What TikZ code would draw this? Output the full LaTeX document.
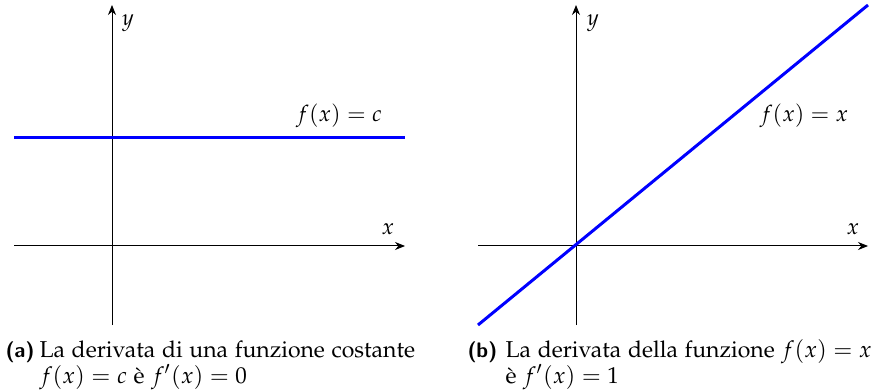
\documentclass[tikz,border=0pt]{standalone}
\usepackage[T1]{fontenc}
\usepackage[sc]{mathpazo}
\usetikzlibrary{arrows.meta}
\definecolor{fblue}{RGB}{0,0,255}
\newcommand{\labfont}{\fontencoding{TU}\fontfamily{lmss}\bfseries\selectfont}
\begin{document}
\begin{tikzpicture}[x=0.4pt,y=-0.4pt,
  axis/.style={line width=0.4pt,-{Stealth[length=4pt,width=3.2pt]}},
  graph/.style={fblue,line width=1.2pt},
  lbl/.style={inner sep=0pt,font=\fontsize{9}{11}\selectfont},
  captext/.style={inner sep=0pt,anchor=base west,font=\fontsize{9.2}{11}\selectfont},
  caplab/.style={inner sep=0pt,anchor=base west,font=\fontsize{8.4}{10}\labfont}]
\useasboundingbox (0,0) rectangle (879,392);
% left panel
\coordinate (ax1w) at (14,246);
\coordinate (ax1e) at (405,246);
\coordinate (ay1s) at (112,325);
\coordinate (ay1n) at (112,5);
\coordinate (c1w) at (14,138);
\coordinate (c1e) at (405,138);
\draw[axis] (ax1w) -- (ax1e);
\draw[axis] (ay1s) -- (ay1n);
\draw[graph] (c1w) -- (c1e);
\node[lbl] (ylab1) at (128,23) {$y$};
\node[lbl] (xlab1) at (388,229) {$x$};
\node[lbl] (flab1) at (339,116) {$f(x)=c$};
% right panel
\coordinate (ax2w) at (478,246);
\coordinate (ax2e) at (868,246);
\coordinate (ay2s) at (576,325);
\coordinate (ay2n) at (576,5);
\coordinate (l2s) at (478,325);
\coordinate (l2e) at (868,5);
\draw[axis] (ax2w) -- (ax2e);
\draw[axis] (ay2s) -- (ay2n);
\draw[graph] (l2s) -- (l2e);
\node[lbl] (ylab2) at (593,23) {$y$};
\node[lbl] (xlab2) at (853,229) {$x$};
\node[lbl] (flab2) at (804,116) {$f(x)=x$};
% captions
\node[caplab] (capal) at (5,357) {(a)};
\node[captext] (capa1) at (39,357) {La derivata di una funzione costante};
\node[captext] (capa2) at (39,383) {$f(x)=c$ \`e $f'(x)=0$};
\node[caplab] (capbl) at (467,357) {(b)};
\node[captext] (capb1) at (505,357) {La derivata della funzione $f(x)=x$};
\node[captext] (capb2) at (505,383) {\`e $f'(x)=1$};
\end{tikzpicture}
\end{document}
